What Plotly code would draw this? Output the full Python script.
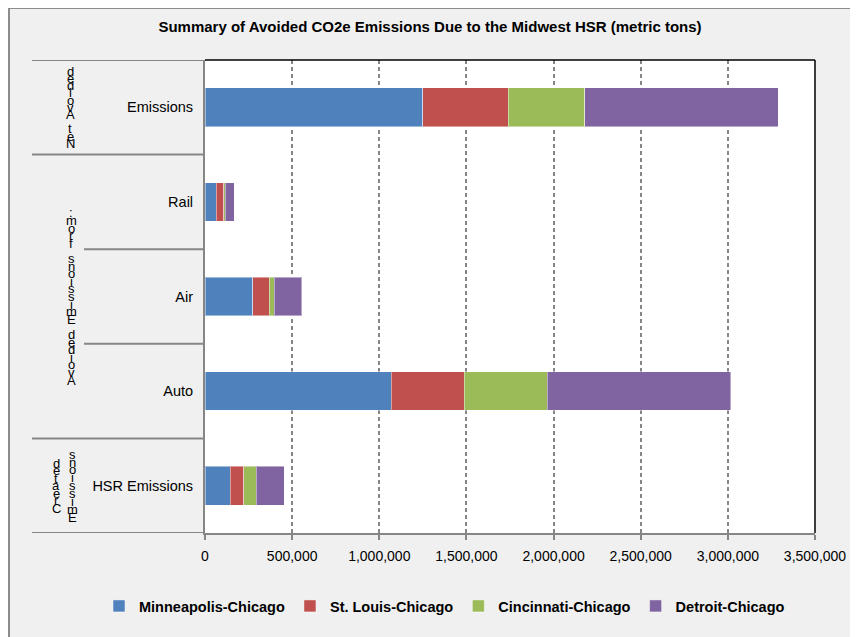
import plotly.graph_objects as go

# ---------------- data ----------------
categories = ["HSR Emissions", "Auto", "Air", "Rail", "Emissions"]
series_names = ["Minneapolis-Chicago", "St. Louis-Chicago", "Cincinnati-Chicago", "Detroit-Chicago"]
minneapolis = [145000, 1070000, 273000, 64000, 1250000]
st_louis = [76000, 417000, 96000, 43000, 489000]
cincinnati = [73000, 478000, 27000, 10000, 441000]
detroit = [160000, 1053000, 158000, 50000, 1109000]
x_tick_values = [0, 500000, 1000000, 1500000, 2000000, 2500000, 3000000, 3500000]
title_text = "Summary of Avoided CO2e Emissions Due to the Midwest HSR (metric tons)"
# group labels (outer category level): text, category index of centre
group_labels = ["Net Avoided", "Avoided Emissions from:", "Created", "Emissions"]
group_centres = [4, 2, 0, 0]

# ---------------- styling ----------------
colors = ["#4F81BD", "#C0504D", "#9BBB59", "#8064A2"]
FONT = "Liberation Sans, Arial, sans-serif"
GRAY = "#868686"
W, H = 858, 637
OX, OY = 8, 8          # page offset of the figure inside the window
# plot area in window pixels: x 205..815, y 60..533
L = 205 - OX
T = 60 - OY
R = W - (815 - OX)
B = H - (533 - OY)
PW = W - L - R
PH = H - T - B


def wx(px):  # window px -> paper x
    return (px - OX - L) / PW


def wy(py):  # window py -> paper y
    return (H - B - (py - OY)) / PH


fig = go.Figure()
all_series = [minneapolis, st_louis, cincinnati, detroit]
for name, vals, col in zip(series_names, all_series, colors):
    fig.add_trace(go.Bar(
        name=name, y=categories, x=vals, orientation="h",
        marker=dict(color=col, line=dict(color="rgba(255,255,255,0.45)", width=1)),
    ))

shapes = []
# outer chart border along the figure edge
shapes.append(dict(type="rect", xref="paper", yref="paper",
                   x0=wx(OX + 1), x1=wx(OX + W - 1),
                   y0=wy(OY + 0), y1=wy(OY + H - 1),
                   line=dict(color="#8c8c8c", width=2), fillcolor="rgba(0,0,0,0)",
                   layer="above"))
# plot area top and right border (black)
shapes.append(dict(type="line", xref="paper", yref="paper", x0=0, x1=1, y0=1, y1=1,
                   line=dict(color="black", width=1.5)))
shapes.append(dict(type="line", xref="paper", yref="paper", x0=1, x1=1, y0=0, y1=1,
                   line=dict(color="black", width=1.5)))
# category separators in the label area
for yb, xs in [(4.5, 32), (3.5, 32), (2.5, 84), (1.5, 84), (0.5, 32), (-0.5, 32)]:
    shapes.append(dict(type="line", xref="paper", yref="y",
                       x0=wx(xs), x1=0, y0=yb, y1=yb,
                       line=dict(color=GRAY, width=2)))

# stacked-letter group labels (as rendered in the reference)
annotations = []
group_x = [70, 71, 56, 72]
group_spacing = [7.2, 7.6, 7.5, 7.9]
for text, centre, gx, sp in zip(group_labels, group_centres, group_x, group_spacing):
    chars = list(text)[::-1]
    n = len(chars)
    for i, ch in enumerate(chars):
        if ch == " ":
            continue
        annotations.append(dict(
            text=ch, xref="paper", yref="y", x=wx(gx), y=centre,
            yshift=((n - 1) / 2 - i) * sp, showarrow=False,
            xanchor="center", yanchor="middle",
            font=dict(family=FONT, size=13, color="black")))

fig.update_layout(
    width=W, height=H,
    margin=dict(l=L, r=R, t=T, b=B, pad=0, autoexpand=False),
    paper_bgcolor="#f0f0f0", plot_bgcolor="white",
    barmode="stack", bargap=0.59,
    font=dict(family=FONT, size=14, color="black"),
    title=dict(text=title_text, x=(430 - OX) / W, xanchor="center",
               y=1 - (27 - OY) / H, yanchor="middle",
               font=dict(family=FONT, size=15, color="black", weight="bold")),
    xaxis=dict(range=[0, 3500000], tickvals=x_tick_values, tickformat=",",
               showgrid=True, gridcolor=GRAY, gridwidth=2, griddash="4px,3px",
               showline=True, linecolor=GRAY, linewidth=2,
               ticks="outside", ticklen=5, tickwidth=2, tickcolor=GRAY,
               ticklabelstandoff=4, automargin=False,
               tickfont=dict(family=FONT, size=14, color="black"),
               zeroline=False, fixedrange=True),
    yaxis=dict(categoryorder="array", categoryarray=categories,
               range=[-0.5, 4.5], showline=True, linecolor=GRAY, linewidth=2,
               showgrid=False, ticks="", ticklabelstandoff=7, automargin=False,
               tickfont=dict(family=FONT, size=14.5, color="black"),
               zeroline=False, fixedrange=True),
    legend=dict(orientation="h", x=wx(99), xanchor="left",
                y=wy(606), yanchor="middle",
                bgcolor="rgba(0,0,0,0)", traceorder="normal",
                font=dict(family=FONT, size=14.5, color="black", weight="bold")),
    shapes=shapes,
    annotations=annotations,
)

fig.write_html("out.html")
